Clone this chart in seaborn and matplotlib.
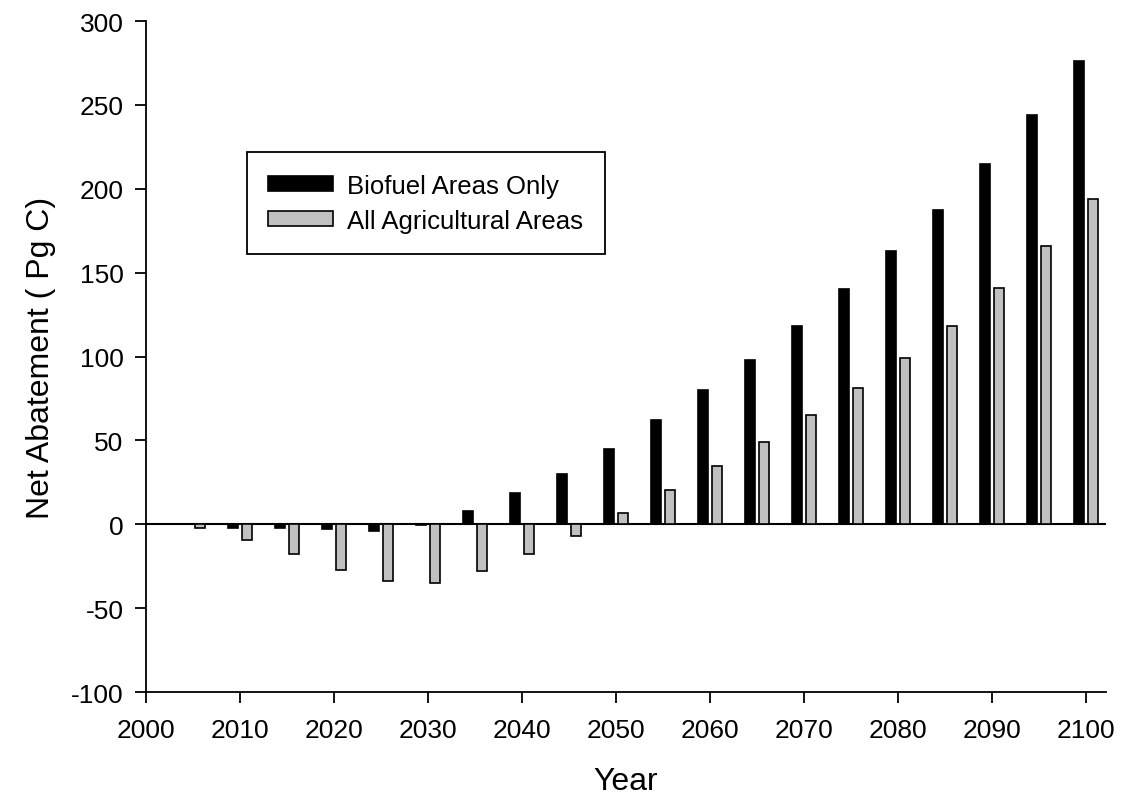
import numpy as np
import pandas as pd
from matplotlib import pyplot as plt
import seaborn as sns

# values
years = [2005, 2010, 2015, 2020, 2025, 2030, 2035, 2040, 2045, 2050,
         2055, 2060, 2065, 2070, 2075, 2080, 2085, 2090, 2095, 2100]
biofuel = [0, -2, -2.5, -3, -4, -0.5, 8, 18.5, 30, 45,
           62, 80, 98, 118, 140, 163, 187.5, 215, 244, 276]
agri = [-2.5, -9.5, -18, -27, -34, -35, -28, -18, -7, 7,
        20.5, 35, 49, 65, 81, 99, 118, 141, 166, 194]
series = ["Biofuel Areas Only", "All Agricultural Areas"]

df = pd.DataFrame({
    "Year": years * 2,
    "val": biofuel + agri,
    "kind": [series[0]] * len(years) + [series[1]] * len(years),
})

sns.set_style("ticks")
plt.rcParams['font.family'] = ['Liberation Sans', 'DejaVu Sans']
plt.rcParams['axes.unicode_minus'] = False
plt.rcParams['text.color'] = 'black'
plt.rcParams['axes.labelcolor'] = 'black'
plt.rcParams['xtick.color'] = 'black'
plt.rcParams['ytick.color'] = 'black'

fig = plt.figure(figsize=(11.21, 8.04), dpi=100)
ax = fig.add_axes([0.130, 0.138, 0.8566, 0.8346])

sns.barplot(data=df, x="Year", y="val", hue="kind", hue_order=series,
            palette=["black", "#c0c0c0"], native_scale=True, errorbar=None,
            width=0.576, gap=0.26, edgecolor="black", linewidth=1.2,
            saturation=1, ax=ax)

ax.axhline(0, color="black", lw=1.5, zorder=0)

ax.set_xlim(2000, 2102.1)
ax.set_ylim(-100, 300)
ax.set_xticks(np.arange(2000, 2101, 10))
ax.set_yticks(np.arange(-100, 301, 50))
ax.tick_params(labelsize=19, length=8, width=1.3, pad=8)
ax.tick_params(axis="x", pad=11)
for s in ["top", "right"]:
    ax.spines[s].set_visible(False)
for s in ["left", "bottom"]:
    ax.spines[s].set_linewidth(1.3)
    ax.spines[s].set_color("black")

ax.set_xlabel("Year", fontsize=23, labelpad=17)
ax.set_ylabel("Net Abatement ( Pg C)", fontsize=23, labelpad=11)

ax.legend(loc="upper left", bbox_to_anchor=(0.105, 0.805), fontsize=18.5,
          frameon=True, fancybox=False, edgecolor="black", framealpha=1,
          handlelength=2.5, handleheight=0.5, borderpad=0.85,
          labelspacing=0.42, handletextpad=0.55, borderaxespad=0)
ax.get_legend().get_frame().set_linewidth(1.3)

fig.savefig("out.png", dpi=100)
